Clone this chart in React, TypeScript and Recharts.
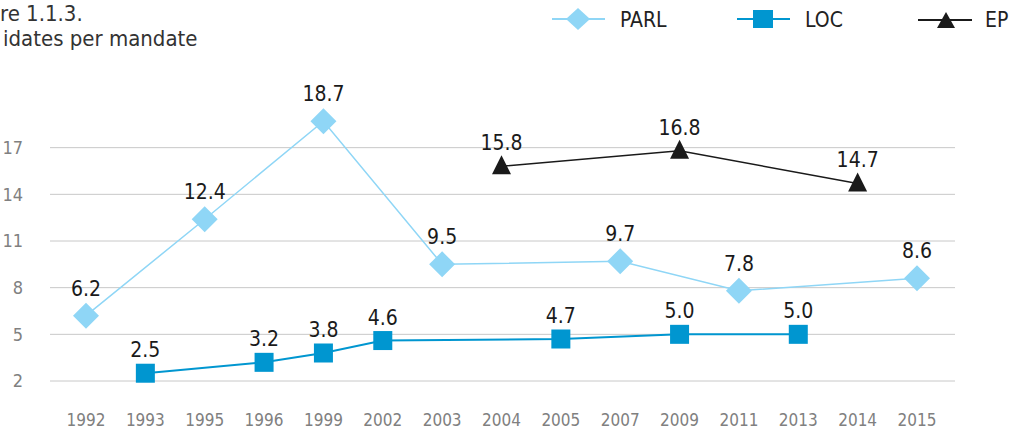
import { LineChart, Line, XAxis, YAxis, CartesianGrid, LabelList } from "recharts";

const years = ["1992", "1993", "1995", "1996", "1999", "2002", "2003", "2004", "2005", "2007", "2009", "2011", "2013", "2014", "2015"];
const parl = [6.2, null, 12.4, null, 18.7, null, 9.5, null, null, 9.7, null, 7.8, null, null, 8.6];
const loc = [null, 2.5, null, 3.2, 3.8, 4.6, null, null, 4.7, null, 5.0, null, 5.0, null, null];
const ep = [null, null, null, null, null, null, null, 15.8, null, null, 16.8, null, null, 14.7, null];
const yTicks = [2, 5, 8, 11, 14, 17];

const data = years.map((year, i) => ({ year, parl: parl[i], loc: loc[i], ep: ep[i] }));

const FONT = "'DejaVu Sans Condensed', 'DejaVu Sans', sans-serif";
const PARL_C = "#8fd6f6";
const LOC_C = "#0096d0";
const EP_C = "#1a1a1a";

const Diamond = (props: any) => {
  const { cx, cy, value } = props;
  if (value == null || cx == null) return <g key={props.key} />;
  const r = 13;
  return <polygon key={props.key} points={`${cx},${cy - r} ${cx + r},${cy} ${cx},${cy + r} ${cx - r},${cy}`} fill={PARL_C} />;
};

const Square = (props: any) => {
  const { cx, cy, value } = props;
  if (value == null || cx == null) return <g key={props.key} />;
  const s = 9.5;
  return <rect key={props.key} x={cx - s} y={cy - s} width={s * 2} height={s * 2} fill={LOC_C} />;
};

const Triangle = (props: any) => {
  const { cx, cy, value } = props;
  if (value == null || cx == null) return <g key={props.key} />;
  const w = 9.5;
  return <polygon key={props.key} points={`${cx},${cy - 11} ${cx + w},${cy + 8} ${cx - w},${cy + 8}`} fill={EP_C} />;
};

const fmt = (v: any) => (v == null ? "" : Number(v).toFixed(1));
const labelStyle = { fill: "#1a1a1a", fontSize: 21, fontFamily: FONT };

export default function App() {
  return (
    <div style={{ position: "absolute", left: 0, top: 0, width: 1022, height: 432, background: "#fff" }}>
      <LineChart width={1022} height={432} data={data} margin={{ top: 101, right: 67, bottom: 11, left: 0 }}>
        <CartesianGrid vertical={false} horizontalValues={yTicks} stroke="#c8c8c8" strokeWidth={1} />
        <XAxis
          dataKey="year"
          padding={{ left: 36, right: 38 }}
          axisLine={false}
          tickLine={false}
          tickSize={0}
          tickMargin={33}
          height={40}
          interval={0}
          tick={{ fill: "#808080", fontSize: 17, fontFamily: FONT }}
        />
        <YAxis
          domain={[2, 20]}
          ticks={yTicks}
          width={50}
          axisLine={false}
          tickLine={false}
          tickSize={0}
          tickMargin={27}
          tick={{ fill: "#808080", fontSize: 18, fontFamily: FONT }}
        />
        <Line dataKey="parl" stroke={PARL_C} strokeWidth={1.5} connectNulls dot={Diamond} activeDot={false} isAnimationActive={false}>
          <LabelList dataKey="parl" position="top" offset={20} formatter={fmt} style={labelStyle} />
        </Line>
        <Line dataKey="loc" stroke={LOC_C} strokeWidth={2} connectNulls dot={Square} activeDot={false} isAnimationActive={false}>
          <LabelList dataKey="loc" position="top" offset={16} formatter={fmt} style={labelStyle} />
        </Line>
        <Line dataKey="ep" stroke={EP_C} strokeWidth={1.5} connectNulls dot={Triangle} activeDot={false} isAnimationActive={false}>
          <LabelList dataKey="ep" position="top" offset={16} formatter={fmt} style={labelStyle} />
        </Line>
      </LineChart>
      <svg width={1022} height={60} style={{ position: "absolute", left: 0, top: 0, pointerEvents: "none" }}>
        <text x={0} y={21} fontSize={22} fontFamily={FONT} fill="#333">re 1.1.3.</text>
        <text x={3} y={46} fontSize={22} fontFamily={FONT} fill="#333">idates per mandate</text>
        <line x1={552} x2={605} y1={19} y2={19} stroke={PARL_C} strokeWidth={2} />
        <polygon points="578,8 590,19 578,30 566,19" fill={PARL_C} />
        <text x={620} y={27} fontSize={21} fontFamily={FONT} fill="#222">PARL</text>
        <line x1={737} x2={790} y1={19} y2={19} stroke={LOC_C} strokeWidth={2} />
        <rect x={753} y={10} width={20} height={18} fill={LOC_C} />
        <text x={805} y={27} fontSize={21} fontFamily={FONT} fill="#222">LOC</text>
        <line x1={918} x2={972} y1={20} y2={20} stroke={EP_C} strokeWidth={2} />
        <polygon points="946,12 955,28 937,28" fill={EP_C} />
        <text x={985} y={27} fontSize={21} fontFamily={FONT} fill="#222">EP</text>
      </svg>
    </div>
  );
}
